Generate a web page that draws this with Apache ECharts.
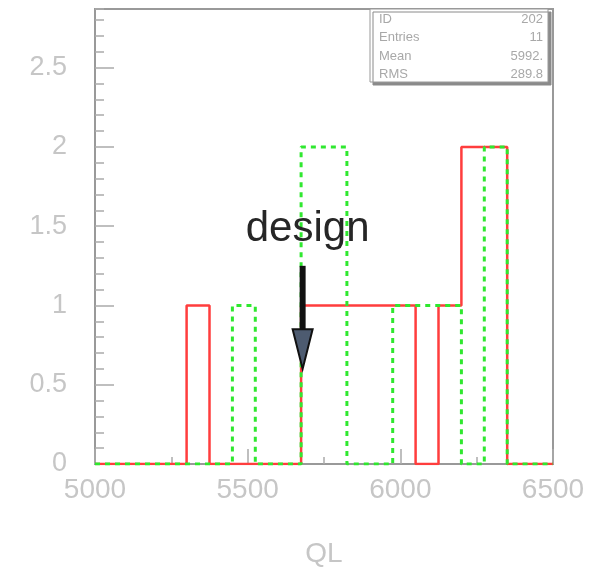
<!DOCTYPE html>
<html><head><meta charset="utf-8">
<script src="https://cdn.jsdelivr.net/npm/echarts@6/dist/echarts.min.js"></script>
<style>html,body{margin:0;padding:0;background:#fff}#c{width:590px;height:568px}</style>
</head><body><div id="c"></div>
<script>
// Histogram bin edges (QL) and counts per bin
const binEdges = [5000,5075,5150,5225,5300,5375,5450,5525,5600,5675,5750,5825,5900,5975,6050,6125,6200,6275,6350,6425,6500];
const redCounts   = [0,0,0,0,1,0,0,0,0,1,1,1,1,1,0,1,2,2,0,0];
const greenCounts = [0,0,0,0,0,0,1,0,0,2,2,0,0,1,1,1,0,2,0,0];
// Axis ranges
const xRange = [5000, 6500];
const yRange = [0, 2.87];
// Stats box
const statLabels = ['ID', 'Entries', 'Mean', 'RMS'];
const statValues = ['202', '11', '5992.', '289.8'];
// Design annotation
const designLabel = 'design';
const designQL = 5680;
const arrowTopY = 1.25, arrowBaseY = 0.85, arrowTipY = 0.6, labelY = 1.48;

function histPoints(counts) {
  const pts = counts.map((c, i) => [binEdges[i], c]);
  pts.push([binEdges[binEdges.length - 1], counts[counts.length - 1]]);
  return pts;
}

const FONT = 'Liberation Sans';
const LABEL_COLOR = '#c6c6c6';
const AX_COLOR = '#999';

const chart = echarts.init(document.getElementById('c'), null, {renderer: 'canvas'});
const baseX = {type: 'value', min: xRange[0], max: xRange[1], position: 'bottom', gridIndex: 0, splitLine: {show: false}};
const baseY = {type: 'value', min: yRange[0], max: yRange[1], position: 'left', gridIndex: 0, splitLine: {show: false}};
chart.setOption({
  animation: false,
  backgroundColor: '#fff',
  grid: {left: 95, right: 37, top: 9, bottom: 104, show: true, borderColor: AX_COLOR, borderWidth: 2, backgroundColor: 'transparent', outerBoundsMode: 'none', containLabel: false},
  xAxis: [
    Object.assign({}, baseX, {
      interval: 500,
      name: 'QL', nameLocation: 'middle', nameGap: 76,
      nameTextStyle: {color: LABEL_COLOR, fontSize: 28, fontFamily: FONT},
      axisLine: {show: true, lineStyle: {color: AX_COLOR, width: 2}},
      axisTick: {show: true, inside: true, length: 15, lineStyle: {color: '#aaa', width: 1.5}},
      axisLabel: {show: true, margin: 12, color: LABEL_COLOR, fontSize: 28, fontFamily: FONT, formatter: v => String(v)}
    }),
    Object.assign({}, baseX, {
      interval: 250,
      axisLine: {show: false},
      axisTick: {show: true, inside: true, length: 7, lineStyle: {color: '#aaa', width: 1.5}},
      axisLabel: {show: false}
    })
  ],
  yAxis: [
    Object.assign({}, baseY, {
      interval: 0.5,
      axisLine: {show: true, lineStyle: {color: AX_COLOR, width: 2}},
      axisTick: {show: true, inside: true, length: 19, lineStyle: {color: '#aaa', width: 1.5}},
      axisLabel: {show: true, margin: 28, color: LABEL_COLOR, fontSize: 27, fontFamily: FONT, showMaxLabel: false, formatter: v => String(v)}
    }),
    Object.assign({}, baseY, {
      interval: 0.1,
      axisLine: {show: false},
      axisTick: {show: true, inside: true, length: 9, lineStyle: {color: '#aaa', width: 1.5}},
      axisLabel: {show: false}
    })
  ],
  series: [
    {type: 'line', step: 'end', xAxisIndex: 0, yAxisIndex: 0, data: histPoints(redCounts), symbol: 'none',
     lineStyle: {color: '#ff3d3d', width: 2.5}, z: 3},
    {type: 'line', step: 'end', xAxisIndex: 0, yAxisIndex: 0, data: histPoints(greenCounts), symbol: 'none',
     lineStyle: {color: '#2fe82f', width: 3, type: [5, 5]}, z: 4}
  ]
});

const pTop = chart.convertToPixel({gridIndex: 0}, [designQL, arrowTopY]);
const pBase = chart.convertToPixel({gridIndex: 0}, [designQL, arrowBaseY]);
const pTip = chart.convertToPixel({gridIndex: 0}, [designQL, arrowTipY]);
const pLabel = chart.convertToPixel({gridIndex: 0}, [designQL, labelY]);

const boxL = 370, boxT = 9, boxW = 178, boxH = 73;
const statGraphics = [];
statLabels.forEach((lab, i) => {
  const y = boxT + 10 + i * 18.6;
  statGraphics.push({type: 'text', z: 101, style: {x: boxL + 9, y: y, text: lab, fill: '#a8a8a8', font: '13px "' + FONT + '"', textAlign: 'left', textVerticalAlign: 'middle'}});
  statGraphics.push({type: 'text', z: 101, style: {x: boxL + boxW - 5, y: y, text: statValues[i], fill: '#a8a8a8', font: '13px "' + FONT + '"', textAlign: 'right', textVerticalAlign: 'middle'}});
});

chart.setOption({
  graphic: [
    {type: 'rect', z: 100, shape: {x: boxL, y: boxT, width: boxW, height: boxH},
     style: {fill: '#fff', stroke: '#999', lineWidth: 1, shadowColor: '#8a8a8a', shadowOffsetX: 3, shadowOffsetY: 3, shadowBlur: 0}},
    ...statGraphics,
    {type: 'rect', z: 110, shape: {x: pTop[0] - 3, y: pTop[1], width: 6, height: pBase[1] - pTop[1] + 2},
     style: {fill: '#111'}},
    {type: 'polygon', z: 111, shape: {points: [[pBase[0] - 10, pBase[1]], [pBase[0] + 10, pBase[1]], [pTip[0], pTip[1]]]},
     style: {fill: '#4d5b70', stroke: '#111', lineWidth: 2}},
    {type: 'text', z: 112, style: {x: pLabel[0] + 5, y: pLabel[1], text: designLabel, fill: '#262626', font: '42px "' + FONT + '"', textAlign: 'center', textVerticalAlign: 'middle'}}
  ]
});
</script>
</body></html>
